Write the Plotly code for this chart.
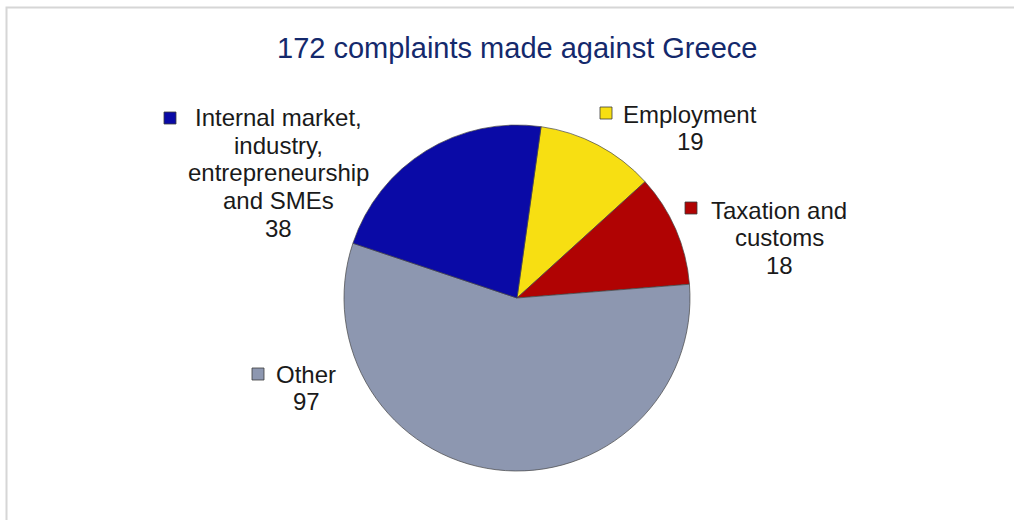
import plotly.graph_objects as go

# ---- data ----
categories = ["Employment", "Taxation and<br>customs", "Other",
              "Internal market,<br>industry,<br>entrepreneurship<br>and SMEs"]
values = [19, 18, 97, 38]
colors = ["#F7DF12", "#B00303", "#8D97B0", "#0A0AA6"]
title_text = "172 complaints made against Greece"

W, H = 1014, 520

fig = go.Figure()
fig.add_trace(go.Pie(
    labels=categories,
    values=values,
    sort=False,
    direction="clockwise",
    rotation=8,
    textinfo="none",
    hoverinfo="label+value",
    marker=dict(colors=colors, line=dict(color="rgba(70,70,70,0.7)", width=1)),
    domain=dict(x=[343 / W, 691 / W], y=[(H - 471) / H, (H - 125) / H]),
    showlegend=False,
))

# label layout: (marker centre x, marker centre y, text centre x, first line y)
label_pos = [
    (606, 113, 690, 114),
    (691, 208, 779, 210),
    (258, 374, 306, 374),
    (170, 118, 278, 118),
]
line_gap = 27.5

def px(x):
    return x / W

def py(y):
    return 1 - y / H

annotations = []
shapes = []
for cat, val, col, (mx, my, tx, ty) in zip(categories, values, colors, label_pos):
    lines = cat.split("<br>") + [str(val)]
    for i, ln in enumerate(lines):
        annotations.append(dict(
            x=px(tx), y=py(ty + i * line_gap), xref="paper", yref="paper",
            text=ln, showarrow=False, xanchor="center", yanchor="middle",
            font=dict(family="Liberation Sans, Arial, sans-serif", size=24,
                      color="#1a1a1a"),
        ))
    shapes.append(dict(
        type="rect", xref="paper", yref="paper",
        x0=px(mx - 6), x1=px(mx + 6), y0=py(my + 6), y1=py(my - 6),
        fillcolor=col, line=dict(color="rgba(60,60,60,0.8)", width=1),
    ))

# title
annotations.append(dict(
    x=px(517), y=py(48), xref="paper", yref="paper", text=title_text,
    showarrow=False, xanchor="center", yanchor="middle",
    font=dict(family="Liberation Sans, Arial, sans-serif", size=29, color="#14296C"),
))

# chart-area border
shapes.append(dict(
    type="rect", xref="paper", yref="paper",
    x0=px(6.5), x1=px(W + 10), y0=py(H + 10), y1=py(7.5),
    line=dict(color="#d6d6d6", width=2), fillcolor="rgba(0,0,0,0)",
))

fig.update_layout(
    width=W, height=H,
    margin=dict(l=0, r=0, t=0, b=0),
    paper_bgcolor="white", plot_bgcolor="white",
    annotations=annotations, shapes=shapes,
)

fig.write_html(
    "out.html",
    config={"displayModeBar": False},
    post_script="document.body.style.margin='0px';document.body.style.overflow='hidden';",
)
